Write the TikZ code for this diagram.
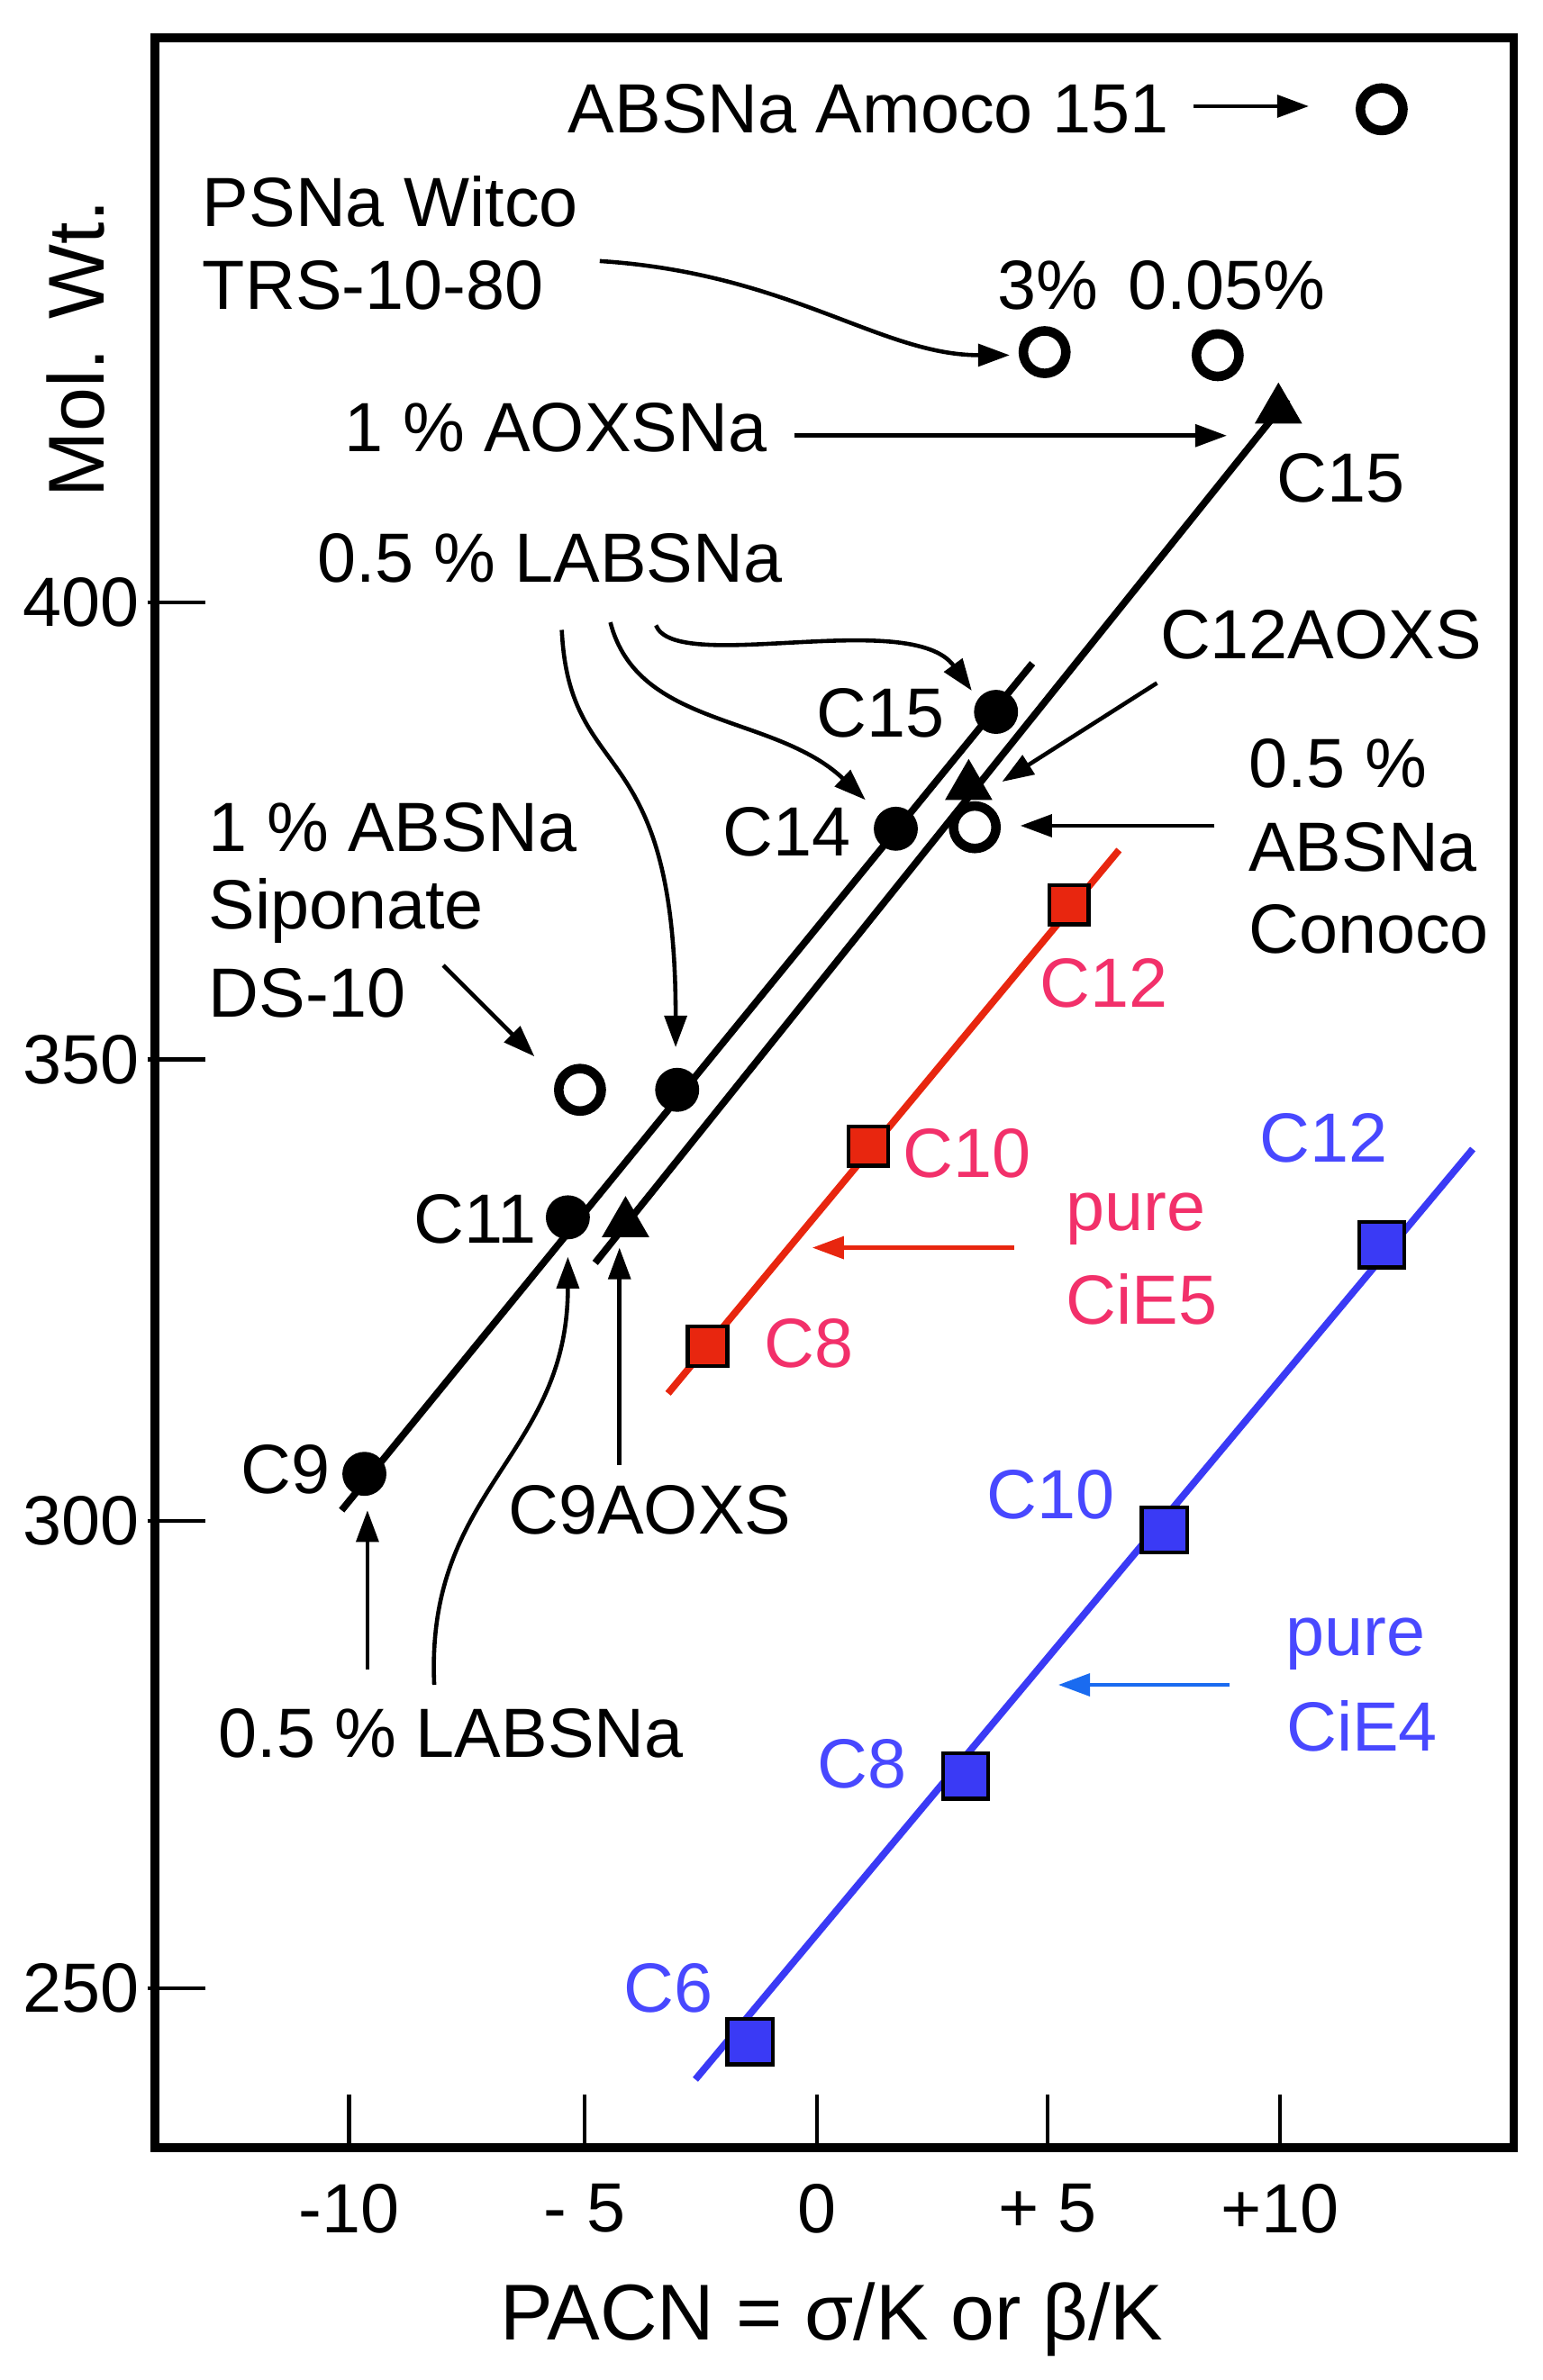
\documentclass[tikz,border=0pt]{standalone}
\usepackage{fontspec}
\setmainfont{Liberation Sans}
\usetikzlibrary{arrows.meta,shapes.geometric}
\definecolor{rd}{HTML}{E8260F}
\definecolor{rdt}{HTML}{F2306A}
\definecolor{bl}{HTML}{3A3AF5}
\definecolor{blt}{HTML}{4848FF}
\definecolor{bla}{HTML}{1A6BF0}
\begin{document}
\begin{tikzpicture}[x=0.01685cm,y=-0.01685cm,
 lab/.style={font=\fontsize{22}{25}\selectfont,inner sep=0pt},
 fc/.style={circle,fill=black,minimum size=29*0.01685cm,inner sep=0pt},
 oc/.style={circle,draw=black,line width=3pt,fill=white,minimum size=28*0.01685cm,inner sep=0pt},
 tri/.style={regular polygon,regular polygon sides=3,fill=black,minimum size=36*0.01685cm,inner sep=0pt},
 rsq/.style={rectangle,fill=rd,draw=black,line width=1.2pt,minimum size=26*0.01685cm,inner sep=0pt},
 bsq/.style={rectangle,fill=bl,draw=black,line width=1.2pt,minimum size=30*0.01685cm,inner sep=0pt},
 arr/.style={line width=1.3pt,-{Triangle[length=10pt,width=7pt]}},
 ln/.style={line width=2.2pt}]
\useasboundingbox (0,0) rectangle (1016,1568);
\draw[line width=2.8pt] (102,25) rectangle (997,1415);
\foreach \y/\t in {397/400,698/350,1002/300,1310/250}{
 \draw[line width=1.3pt] (97,\y) -- (135,\y);
 \node[lab,anchor=east] at (92,\y) {\t};}
\foreach \x/\t in {230/-10,385/- 5,538/0,690/+ 5,843/+10}{
 \draw[line width=1.3pt] (\x,1380) -- (\x,1415);
 \node[lab] at (\x,1455) {\t};}
\node[lab,font=\fontsize{25}{28}\selectfont] (xl) at (548,1528) {PACN = σ/K or β/K};
\node[lab,font=\fontsize{25}{28}\selectfont,rotate=90] (yl) at (50,230) {Mol. Wt.};
\coordinate (l1a) at (225,995); \coordinate (l1b) at (680,437);
\coordinate (l2a) at (392,832); \coordinate (l2b) at (848,263);
\coordinate (l3a) at (440,918); \coordinate (l3b) at (737,560);
\coordinate (l4a) at (458,1370); \coordinate (l4b) at (970,757);
\draw[ln] (l1a) -- (l1b);
\draw[ln] (l2a) -- (l2b);
\draw[ln,rd] (l3a) -- (l3b);
\draw[ln,bl] (l4a) -- (l4b);
\node[fc] (p9) at (240,971) {};
\node[fc] (p11) at (374,802) {};
\node[fc] (p12) at (446,718) {};
\node[fc] (p14) at (590,546) {};
\node[fc] (p15) at (656,469) {};
\node[tri] (t9) at (412,806) {};
\node[tri] (t12) at (638,518) {};
\node[tri] (t15) at (842,270) {};
\node[oc] (o1) at (382,718) {};
\node[oc] (o2) at (642,545) {};
\node[oc] (o3) at (688,232) {};
\node[oc] (o4) at (802,234) {};
\node[oc] (o5) at (910,72) {};
\node[rsq] (r8) at (466,887) {};
\node[rsq] (r10) at (572,755) {};
\node[rsq] (r12) at (704,596) {};
\node[bsq] (b6) at (494,1345) {};
\node[bsq] (b8) at (636,1170) {};
\node[bsq] (b10) at (767,1008) {};
\node[bsq] (b12) at (910,820) {};
\node[lab] (amoco) at (572,72) {ABSNa Amoco 151};
\coordinate (amA) at (786,70); \coordinate (amB) at (862,70);
\draw[arr] (amA) -- (amB);
\node[lab,anchor=west] (psna) at (133,133) {PSNa Witco};
\node[lab,anchor=west] (trs) at (133,188) {TRS-10-80};
\coordinate (trsA) at (395,172); \coordinate (trsB) at (665,234);
\draw[arr] (trsA) .. controls (520,180) and (580,234) .. (trsB);
\node[lab] (p3) at (690,188) {3\%};
\node[lab] (p005) at (808,188) {0.05\%};
\node[lab] (aox) at (366,282) {1 \% AOXSNa};
\coordinate (aoxA) at (523,287); \coordinate (aoxB) at (808,287);
\draw[arr] (aoxA) -- (aoxB);
\node[lab] (c15t) at (883,315) {C15};
\node[lab] (lab1) at (362,368) {0.5 \% LABSNa};
\coordinate (la1) at (432,412); \coordinate (la2) at (402,410); \coordinate (la3) at (370,415);
\draw[arr] (la1) .. controls (445,445) and (600,400) .. (640,455);
\draw[arr] (la2) .. controls (420,480) and (510,470) .. (570,527);
\draw[arr] (la3) .. controls (375,520) and (445,480) .. (445,690);
\node[lab] (c12aox) at (870,418) {C12AOXS};
\coordinate (caA) at (762,450); \coordinate (caB) at (660,515);
\draw[arr] (caA) -- (caB);
\node[lab] (c15) at (580,470) {C15};
\node[lab] (c14) at (518,548) {C14};
\node[lab,anchor=west] (con1) at (822,503) {0.5 \%};
\node[lab,anchor=west] (con2) at (822,558) {ABSNa};
\node[lab,anchor=west] (con3) at (822,612) {Conoco};
\coordinate (coA) at (800,544); \coordinate (coB) at (672,544);
\draw[arr] (coA) -- (coB);
\node[lab,anchor=west] (s1) at (137,545) {1 \% ABSNa};
\node[lab,anchor=west] (s2) at (137,600) {Siponate};
\node[lab,anchor=west] (s3) at (137,654) {DS-10};
\coordinate (sA) at (292,636); \coordinate (sB) at (352,696);
\draw[arr] (sA) -- (sB);
\node[lab] (c11) at (313,803) {C11};
\node[lab] (c9) at (188,968) {C9};
\node[lab] (c9a) at (428,995) {C9AOXS};
\coordinate (c9aA) at (408,965); \coordinate (c9aB) at (408,822);
\draw[arr] (c9aA) -- (c9aB);
\coordinate (lbA) at (286,1110); \coordinate (lbB) at (374,828);
\draw[arr] (lbA) .. controls (280,980) and (374,960) .. (lbB);
\coordinate (lcA) at (242,1100); \coordinate (lcB) at (242,995);
\draw[arr] (lcA) -- (lcB);
\node[lab] (lab2) at (297,1142) {0.5 \% LABSNa};
\node[lab,rdt] (rc12) at (727,648) {C12};
\node[lab,rdt] (rc10) at (637,760) {C10};
\node[lab,rdt] (rc8) at (533,885) {C8};
\node[lab,rdt] (rp) at (748,803) {pure};
\node[lab,rdt] (rce) at (752,856) {CiE5};
\coordinate (rA) at (668,822); \coordinate (rB) at (535,822);
\draw[arr,rd] (rA) -- (rB);
\node[lab,blt] (bc12) at (872,750) {C12};
\node[lab,blt] (bc10) at (692,985) {C10};
\node[lab,blt] (bc8) at (568,1162) {C8};
\node[lab,blt] (bc6) at (440,1310) {C6};
\node[lab,blt] (bp) at (893,1083) {pure};
\node[lab,blt] (bce) at (897,1137) {CiE4};
\coordinate (bA) at (810,1110); \coordinate (bB) at (697,1110);
\draw[arr,bla] (bA) -- (bB);
\end{tikzpicture}
\end{document}
